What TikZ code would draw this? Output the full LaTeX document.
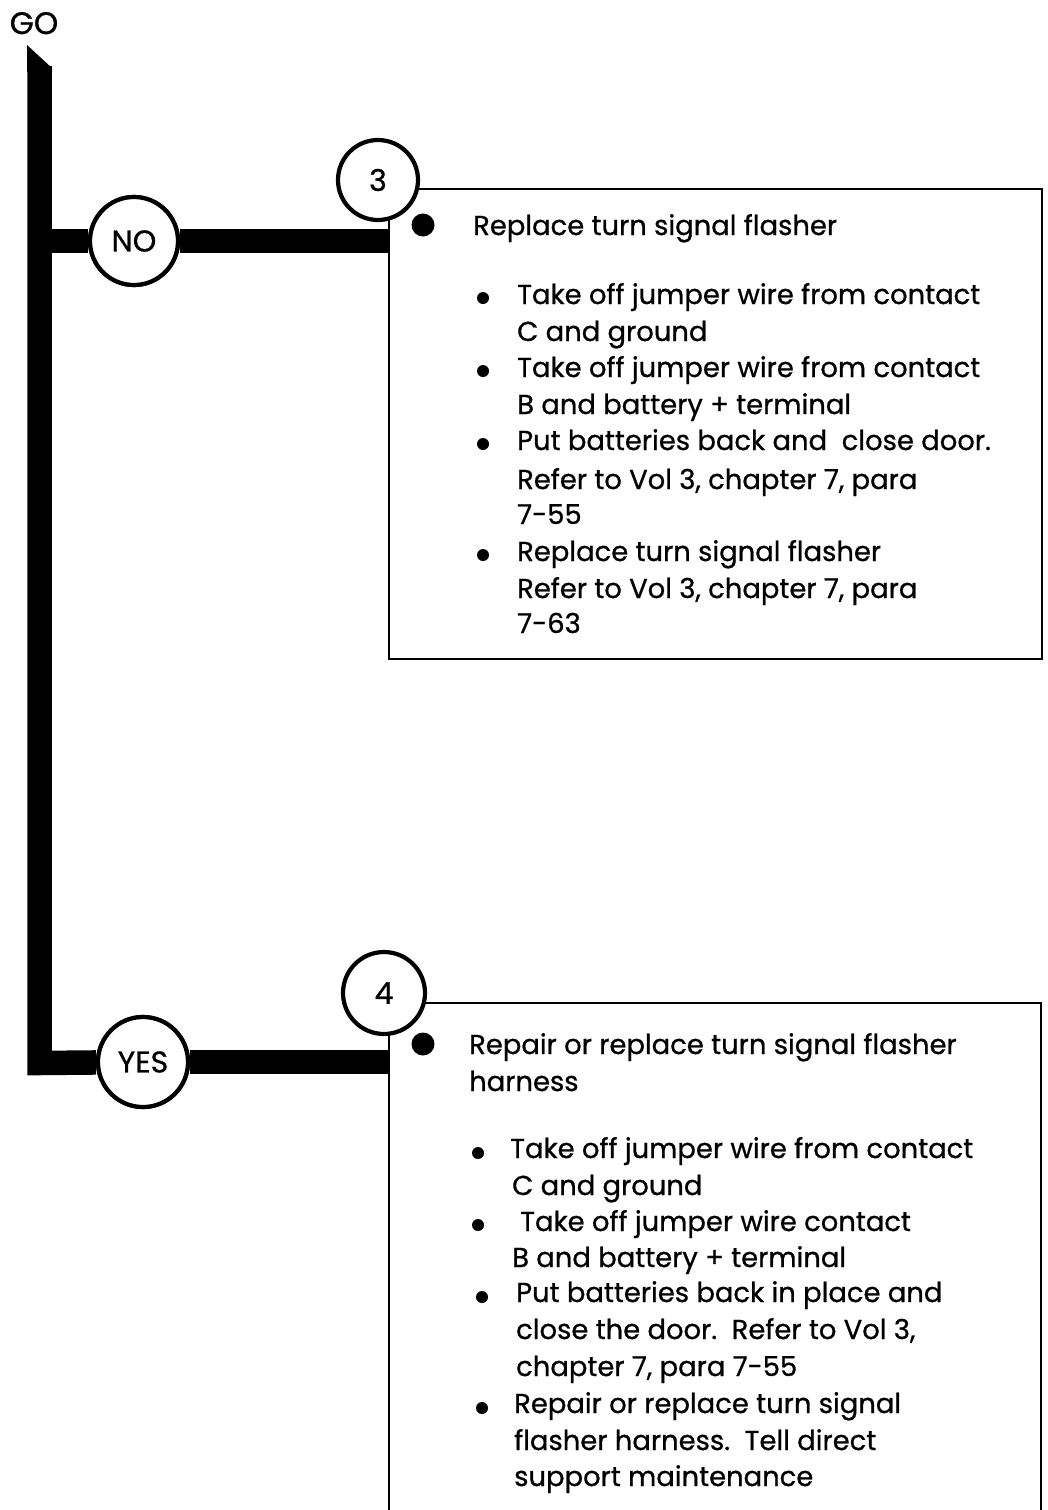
\documentclass[tikz,border=0pt]{standalone}
\usepackage{fontspec}
\setmainfont{Poppins}[FakeBold=0.8]
\begin{document}
\begin{tikzpicture}[x=1pt,y=-1pt,
  bar/.style={line width=24.5pt, line join=miter},
  circ/.style={circle, draw, line width=4.2pt, fill=white, inner sep=0pt, font=\fontsize{30}{34}\selectfont},
  boxframe/.style={draw, line width=2pt, rectangle, inner sep=0pt},
  ln/.style={anchor=base west, inner sep=0pt, font=\fontsize{27.4}{32}\selectfont},
  bigdot/.style={circle, fill, inner sep=0pt, minimum size=23pt},
  smalldot/.style={circle, fill, inner sep=0pt, minimum size=12pt}]
\useasboundingbox (0,0) rectangle (1047,1510);
\clip (0,0) rectangle (1047,1510);
% title
\node[anchor=base, inner sep=0pt, font=\fontsize{31}{34}\selectfont] (go) at (34,34) {GO};
% boxes
\node[boxframe, anchor=north west, minimum width=653pt, minimum height=470pt] (box1) at (388,188) {};
\node[boxframe, anchor=north west, minimum width=652pt, minimum height=540pt] (box2) at (388,1002) {};
% trunk
\coordinate (trunktop) at (39.5,66);
\coordinate (corner) at (39.5,1063);
\node[circ, minimum size=88pt] (NO) at (134,241) {NO};
\node[circ, minimum size=90pt] (YES) at (143,1062) {YES};
\fill (27,45) -- (52,68) -- (52,72) -- (27,72) -- cycle;
\draw[bar] (trunktop) -- (corner) -- (YES);
\draw[bar] (YES) -- (YES -| box2.west);
\draw[bar] (NO -| trunktop) -- (NO);
\draw[bar] (NO) -- (NO -| box1.west);
\node[circ, minimum size=88pt] at (134,241) {NO};
\node[circ, minimum size=90pt] at (143,1062) {YES};
\node[circ, minimum size=80pt] (c3) at (378,180) {3};
\node[circ, minimum size=82pt] (c4) at (384,993) {4};
% box 1 text
\node[bigdot] (b1) at (423,225) {};
\node[ln] (t1) at (473,235) {Replace turn signal flasher};
\node[smalldot] (d11) at (483,298) {};
\node[ln] (t11a) at (517,304) {Take off jumper wire from contact};
\node[ln] (t11b) at (517,341) {C and ground};
\node[smalldot] (d12) at (483,371) {};
\node[ln] (t12a) at (517,377) {Take off jumper wire from contact};
\node[ln] (t12b) at (517,414) {B and battery + terminal};
\node[smalldot] (d13) at (483,444) {};
\node[ln] (t13a) at (517,450) {Put batteries back and\ \ close door.};
\node[ln] (t13b) at (517,489) {Refer to Vol 3, chapter 7, para};
\node[ln] (t13c) at (517,524) {7-55};
\node[smalldot] (d14) at (483,555) {};
\node[ln] (t14a) at (517,561) {Replace turn signal flasher};
\node[ln] (t14b) at (517,598) {Refer to Vol 3, chapter 7, para};
\node[ln] (t14c) at (517,633) {7-63};
% box 2 text
\node[bigdot] (b2) at (423,1044) {};
\node[ln] (t2) at (469,1054) {Repair or replace turn signal flasher};
\node[ln] (t2b) at (469,1091) {harness};
\node[smalldot] (d21) at (478,1153) {};
\node[ln] (t21a) at (510,1158) {Take off jumper wire from contact};
\node[ln] (t21b) at (512,1195) {C and ground};
\node[smalldot] (d22) at (478,1225) {};
\node[ln] (t22a) at (520,1231) {Take off jumper wire contact};
\node[ln] (t22b) at (512,1267) {B and battery + terminal};
\node[smalldot] (d23) at (482,1297) {};
\node[ln] (t23a) at (516,1302) {Put batteries back in place and};
\node[ln] (t23b) at (516,1339) {close the door.\ \ Refer to Vol 3,};
\node[ln] (t23c) at (516,1376) {chapter 7, para 7-55};
\node[smalldot] (d24) at (482,1408) {};
\node[ln] (t24a) at (514,1413) {Repair or replace turn signal};
\node[ln] (t24b) at (514,1450) {flasher harness.\ \ Tell direct};
\node[ln] (t24c) at (514,1486) {support maintenance};
\end{tikzpicture}
\end{document}
